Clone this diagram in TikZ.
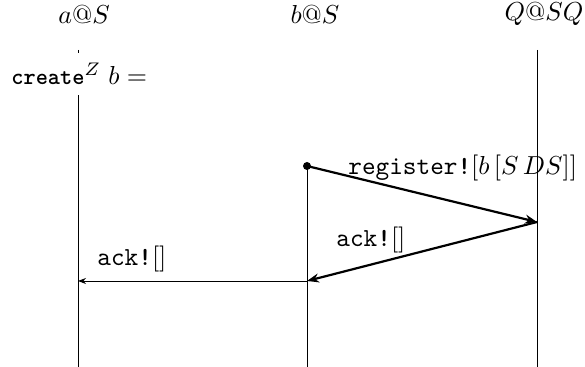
\documentclass[tikz,border=0pt]{standalone}
\usetikzlibrary{arrows.meta}
\newcommand{\mth}[1]{\scalebox{1.3}{$#1$}}
\newcommand{\ttbig}[1]{\scalebox{1.3}{\ttfamily #1}}
\newcommand{\ttcreate}[1]{\scalebox{1.16}{\ttfamily\bfseries #1}}
\begin{document}
\begin{tikzpicture}[x=0.5pt,y=-0.5pt,
  lifeline/.style={line width=0.4pt},
  thickmsg/.style={line width=1.1pt,-{Stealth[length=6pt,width=4.5pt]}},
  thinmsg/.style={line width=0.4pt,-{Stealth[length=4pt,width=3pt]}},
  lbl/.style={inner sep=0pt,anchor=center}]
\useasboundingbox (0,0) rectangle (585,367);
% headers
\node[lbl] (ha) at (84,14) {\mth{a@S}};
\node[lbl] (hb) at (315,14) {\mth{b@S}};
\node[lbl] (hq) at (544,14) {\mth{Q@SQ}};
% lifeline coordinates
\coordinate (atop) at (78,50);
\coordinate (abot) at (78,367);
\coordinate (btop) at (307,166);
\coordinate (bbot) at (307,367);
\coordinate (qtop) at (537,50);
\coordinate (qbot) at (537,367);
\coordinate (qmsg) at (537,222);
\coordinate (bmsg) at (307,281);
\coordinate (amsg) at (78,281);
\draw[lifeline] (atop) -- (abot);
\draw[lifeline] (btop) -- (bbot);
\draw[lifeline] (qtop) -- (qbot);
% create label
\node[lbl,anchor=west,fill=white,inner xsep=0pt,inner ysep=5pt] (create) at (11,74) {\ttcreate{create}\mth{^{Z}\;b =}};
% dot
\fill (btop) circle (4);
% messages
\draw[thickmsg] (btop) -- (qmsg);
\draw[thickmsg] (qmsg) -- (bmsg);
\draw[thinmsg] (bmsg) -- (amsg);
% message labels
\node[lbl,anchor=west] (reg) at (348,168) {\ttbig{register\textbf{!}}\mth{[b\,[S\,DS]]}};
\node[lbl,anchor=west] (ack1) at (336,240) {\ttbig{ack\textbf{!}}\mth{[]}};
\node[lbl,anchor=west] (ack2) at (97,259) {\ttbig{ack\textbf{!}}\mth{[]}};
\end{tikzpicture}
\end{document}
